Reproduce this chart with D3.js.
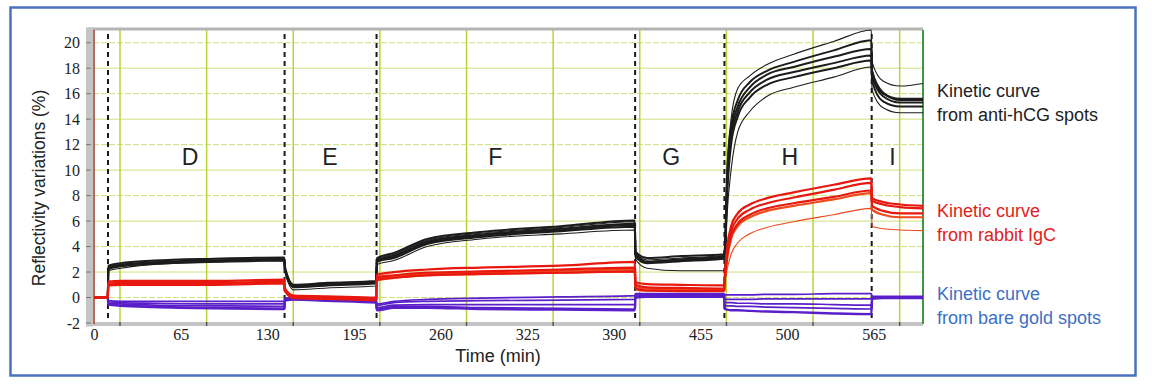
<!doctype html>
<html lang="en">
<head>
<meta charset="utf-8"/>
<title>Kinetic curves</title>
<style>
    body { margin: 0; background: #fff; }
    svg { display: block; }
</style>
</head>
<body>
<svg id="chart"></svg>
<script src="https://d3js.org/d3.v7.min.js"></script>
<script>
    // time knots (min) shared by every trace
    const T = [0, 10.3, 10.8, 20, 45, 90, 142.7, 143.3, 150, 175, 211.7, 212.3, 225, 250, 290, 350, 405.7,
        406.3, 415, 440, 472.7, 473.3, 475, 478, 483, 492, 505, 525, 555, 583.2, 583.8, 592, 605, 622];

    // anti-hCG spots
    const black1 = [0, 0, 2.5, 2.7, 2.9, 3.05, 3.15, 2.4, 1.0, 1.15, 1.3, 3.1, 3.5, 4.6, 5.15, 5.6, 6.05, 3.6, 3.1, 3.25, 3.4, 3.8, 9.0, 13.0, 15.0, 16.5, 17.5, 18.1, 18.9, 19.5, 17.7, 16.0, 15.6, 15.6];
    const black2 = [0, 0, 2.35, 2.55, 2.75, 2.9, 3.0, 2.2, 0.9, 1.05, 1.2, 2.9, 3.3, 4.4, 4.95, 5.4, 5.8, 3.4, 2.8, 3.0, 3.25, 3.6, 8.5, 12.5, 14.6, 16.1, 17.1, 17.7, 18.4, 19.0, 17.4, 15.8, 15.3, 15.3];
    const black3 = [0, 0, 2.25, 2.45, 2.65, 2.8, 2.9, 2.1, 0.8, 0.95, 1.1, 2.8, 3.1, 4.2, 4.75, 5.2, 5.55, 3.2, 2.7, 2.85, 3.05, 3.4, 8.0, 12.0, 14.2, 15.7, 16.7, 17.3, 18.0, 18.6, 17.0, 15.4, 15.0, 15.0];
    const black4 = [0, 0, 2.4, 2.6, 2.8, 2.95, 3.05, 2.3, 0.95, 1.1, 1.25, 3.0, 3.4, 4.5, 5.05, 5.5, 5.95, 3.5, 2.95, 3.1, 3.3, 3.7, 10.0, 14.0, 16.4, 17.4, 18.3, 19.1, 20.1, 21.0, 18.5, 17.0, 16.6, 16.8];
    const black5 = [0, 0, 2.3, 2.5, 2.7, 2.85, 2.95, 2.2, 0.85, 1.0, 1.15, 2.9, 3.2, 4.3, 4.85, 5.3, 5.7, 3.4, 2.8, 2.95, 3.15, 3.5, 9.5, 13.4, 15.5, 16.9, 17.8, 18.5, 19.4, 20.2, 17.8, 16.1, 15.5, 15.5];
    const black6 = [0, 0, 2.1, 2.3, 2.6, 2.8, 2.95, 2.0, 0.6, 0.75, 0.9, 2.6, 2.9, 4.0, 4.6, 5.0, 5.3, 3.0, 2.3, 2.1, 2.1, 2.6, 6.5, 10.0, 13.0, 14.6, 15.8, 16.5, 17.3, 18.1, 16.3, 14.9, 14.5, 14.5];

    // rabbit IgG spots
    const red1 = [0, 0, 1.25, 1.3, 1.3, 1.3, 1.4, 0.7, 0.15, 0.1, 0.0, 1.8, 2.0, 2.2, 2.35, 2.5, 2.8, 1.2, 1.05, 1.0, 0.95, 1.8, 3.9, 5.6, 6.6, 7.3, 7.8, 8.25, 8.85, 9.35, 7.8, 7.5, 7.3, 7.2];
    const red2 = [0, 0, 1.1, 1.15, 1.15, 1.15, 1.25, 0.6, 0.05, 0.0, -0.1, 1.6, 1.75, 1.95, 2.05, 2.2, 2.35, 1.0, 0.8, 0.75, 0.7, 1.5, 3.5, 5.2, 6.2, 6.9, 7.4, 7.85, 8.45, 9.0, 7.6, 7.3, 7.1, 7.0];
    const red3 = [0, 0, 0.95, 1.0, 1.0, 1.0, 1.1, 0.5, -0.05, -0.1, -0.2, 1.4, 1.55, 1.75, 1.85, 1.95, 2.05, 0.7, 0.55, 0.5, 0.5, 1.3, 3.2, 4.8, 5.8, 6.5, 7.0, 7.4, 7.9, 8.4, 7.2, 6.8, 6.6, 6.6];
    const red4 = [0, 0, 1.05, 1.1, 1.1, 1.1, 1.2, 0.55, 0.0, -0.05, -0.15, 1.5, 1.65, 1.85, 1.95, 2.1, 2.2, 0.85, 0.7, 0.65, 0.6, 1.4, 3.0, 4.6, 5.6, 6.3, 6.8, 7.2, 7.7, 8.2, 6.9, 6.5, 6.3, 6.3];
    const red5 = [0, 0, 1.0, 1.05, 1.05, 1.05, 1.15, 0.5, -0.05, -0.1, -0.15, 1.3, 1.5, 1.7, 1.8, 1.9, 2.0, 0.6, 0.5, 0.5, 0.5, 1.2, 2.2, 3.4, 4.3, 5.0, 5.5, 5.95, 6.5, 7.0, 5.6, 5.4, 5.3, 5.25];

    // bare gold spots
    const gold1 = [0, 0, -0.25, -0.3, -0.3, -0.3, -0.3, -0.05, 0.0, -0.05, -0.15, -0.5, -0.3, -0.15, -0.05, 0.05, 0.15, 0.3, 0.3, 0.3, 0.3, 0.2, 0.2, 0.2, 0.2, 0.2, 0.25, 0.25, 0.3, 0.3, 0.1, 0.1, 0.1, 0.1];
    const gold2 = [0, 0, -0.35, -0.4, -0.45, -0.5, -0.5, -0.1, -0.05, -0.1, -0.2, -0.6, -0.4, -0.3, -0.25, -0.2, -0.15, 0.2, 0.2, 0.2, 0.2, -0.1, -0.15, -0.15, -0.15, -0.15, -0.1, -0.1, -0.1, -0.1, 0.05, 0.05, 0.05, 0.05];
    const gold3 = [0, 0, -0.45, -0.5, -0.6, -0.65, -0.7, -0.15, -0.1, -0.15, -0.3, -0.8, -0.6, -0.55, -0.55, -0.55, -0.55, 0.1, 0.15, 0.15, 0.15, -0.35, -0.4, -0.4, -0.45, -0.45, -0.5, -0.5, -0.55, -0.6, 0.0, 0.0, 0.0, 0.0];
    const gold4 = [0, 0, -0.5, -0.6, -0.7, -0.8, -0.85, -0.2, -0.15, -0.2, -0.35, -0.9, -0.7, -0.7, -0.8, -0.85, -0.9, 0.05, 0.1, 0.1, 0.1, -0.6, -0.65, -0.65, -0.7, -0.7, -0.75, -0.8, -0.85, -0.9, -0.05, 0.0, 0.0, 0.0];
    const gold5 = [0, 0, -0.55, -0.65, -0.75, -0.85, -0.9, -0.25, -0.15, -0.25, -0.4, -1.0, -0.8, -0.8, -0.9, -0.95, -1.0, 0.0, 0.05, 0.05, 0.05, -0.9, -0.95, -1.0, -1.0, -1.05, -1.1, -1.15, -1.25, -1.3, -0.1, -0.05, -0.05, -0.05];

    // injection steps (dashed lines) and step labels
    const steps = [10.5, 143, 212, 406, 473, 583.5];
    const stepNames = ["D", "E", "F", "G", "H", "I"];
    const stepLabelT = [72, 177, 301, 433, 522, 599];

    // axes
    const xTickPos = [0, 65, 130, 195, 260, 325, 390, 455, 520, 585];
    const xTickLabels = ["0", "65", "130", "195", "260", "325", "390", "455", "500", "565"];
    const xGrid = [19.5, 84.5, 149.5, 214.5, 279.5, 344.5, 409.5, 474.5, 539.5, 604.5];
    const yTicks = [-2, 0, 2, 4, 6, 8, 10, 12, 14, 16, 18, 20];

    const legendLines = [
        ["Kinetic curve", "from anti-hCG spots"],
        ["Kinetic curve", "from rabbit IgC"],
        ["Kinetic curve", "from bare gold spots"]
    ];

    const W = 1152, H = 384;
    const sans = "'Liberation Sans', Arial, sans-serif";
    const serif = "'Liberation Serif', 'Times New Roman', serif";
    const svg = d3.select("#chart").attr("width", W).attr("height", H);

    // blue frame
    svg.append("rect")
        .attr("x", 10.5).attr("y", 7.5).attr("width", 1125).attr("height", 368)
        .attr("fill", "#fff").attr("stroke", "#4a72c0").attr("stroke-width", 2.5);

    const x = d3.scaleLinear().domain([-4.5, 622]).range([88, 923]);
    const y = d3.scaleLinear().domain([-2, 21]).range([323, 30]);

    // grid
    const grid = svg.append("g");
    grid.selectAll("line.h")
        .data(yTicks.filter(d => d >= 0))
        .enter().append("line")
            .attr("x1", 93).attr("x2", 923)
            .attr("y1", d => y(d)).attr("y2", d => y(d))
            .attr("stroke", "#cfe07a").attr("stroke-width", 1)
            .attr("stroke-dasharray", d => d % 4 === 0 ? "6,2" : null);
    grid.selectAll("line.v")
        .data(xGrid)
        .enter().append("line")
            .attr("x1", d => x(d)).attr("x2", d => x(d))
            .attr("y1", 30).attr("y2", 323)
            .attr("stroke", "#b8d437").attr("stroke-width", 1.5);

    // gray frame bars
    svg.append("rect").attr("x", 88).attr("y", 27.5).attr("width", 835).attr("height", 3).attr("fill", "#b4b4b4");
    svg.append("rect").attr("x", 86).attr("y", 27.5).attr("width", 7).attr("height", 299).attr("fill", "#c4c4c4");
    svg.append("rect").attr("x", 88).attr("y", 322).attr("width", 835).attr("height", 4).attr("fill", "#c4c4c4");
    svg.append("line").attr("x1", 923).attr("x2", 923).attr("y1", 30).attr("y2", 324)
        .attr("stroke", "#3f9a3f").attr("stroke-width", 2);
    svg.append("line").attr("x1", x(0)).attr("x2", x(0)).attr("y1", 30).attr("y2", 324)
        .attr("stroke", "#a8342a").attr("stroke-width", 1.5);

    // small ticks on the bottom and left bars
    svg.append("g").selectAll("line")
        .data(xGrid)
        .enter().append("line")
            .attr("x1", d => x(d)).attr("x2", d => x(d))
            .attr("y1", 322).attr("y2", 326)
            .attr("stroke", "#555").attr("stroke-width", 1.5);
    svg.append("g").selectAll("line")
        .data(yTicks)
        .enter().append("line")
            .attr("x1", 86).attr("x2", 91)
            .attr("y1", d => y(d)).attr("y2", d => y(d))
            .attr("stroke", "#777").attr("stroke-width", 1);

    // dashed step lines
    svg.append("g").selectAll("line")
        .data(steps)
        .enter().append("line")
            .attr("x1", d => x(d)).attr("x2", d => x(d))
            .attr("y1", 34).attr("y2", 322)
            .attr("stroke", "#1a1a1a").attr("stroke-width", 2)
            .attr("stroke-dasharray", "5,4");

    // curves
    const line = d3.line()
        .x((d, i) => x(T[i]))
        .y(d => y(d))
        .curve(d3.curveMonotoneX);

    const curves = svg.append("g").attr("fill", "none").attr("stroke-linejoin", "round");

    const gold = [gold1, gold2, gold3, gold4, gold5];
    const red = [red5, red4, red3, red1, red2];
    const black = [black6, black3, black5, black1, black4, black2];

    curves.selectAll("path.gold")
        .data(gold)
        .enter().append("path")
            .attr("d", line)
            .attr("stroke", "#5a1fc9")
            .attr("stroke-width", (d, i) => i === 4 ? 2.4 : 1.7);

    curves.selectAll("path.black")
        .data(black)
        .enter().append("path")
            .attr("d", line)
            .attr("stroke", "#1c1c1c")
            .attr("stroke-width", (d, i) => (i === 0 || i === 4) ? 1.1 : 2);

    curves.selectAll("path.red")
        .data(red)
        .enter().append("path")
            .attr("d", line)
            .attr("stroke", (d, i) => i === 1 || i === 0 ? "#ee4a1c" : "#e8180f")
            .attr("stroke-width", (d, i) => i === 0 ? 1.1 : 2.2);

    // step letters
    svg.append("g").selectAll("text")
        .data(stepNames)
        .enter().append("text")
            .attr("x", (d, i) => x(stepLabelT[i]))
            .attr("y", y(11))
            .attr("dy", "0.35em")
            .attr("text-anchor", "middle")
            .style("font-family", sans)
            .style("font-size", "23px")
            .attr("fill", "#222")
            .text(d => d);

    // axes
    const yAxis = svg.append("g")
        .attr("transform", "translate(88,0)")
        .call(d3.axisLeft(y).tickValues(yTicks).tickFormat(d => String(d)).tickSize(0).tickPadding(8));
    yAxis.select(".domain").remove();
    yAxis.selectAll("text").style("font-family", serif).style("font-size", "16px").attr("fill", "#222");

    const xAxis = svg.append("g")
        .attr("transform", "translate(0,326)")
        .call(d3.axisBottom(x).tickValues(xTickPos).tickFormat((d, i) => xTickLabels[i]).tickSize(0).tickPadding(3));
    xAxis.select(".domain").remove();
    xAxis.selectAll("text").style("font-family", serif).style("font-size", "16px").attr("fill", "#222");

    svg.append("text")
        .attr("transform", "translate(45,188) rotate(-90)")
        .attr("text-anchor", "middle")
        .style("font-family", sans)
        .style("font-size", "17.5px")
        .attr("fill", "#222")
        .text("Reflectivity variations (%)");

    svg.append("text")
        .attr("x", 498).attr("y", 362)
        .attr("text-anchor", "middle")
        .style("font-family", sans)
        .style("font-size", "18px")
        .attr("fill", "#222")
        .text("Time (min)");

    // legend text
    const legendColors = ["#222", "#e3211b", "#3d6fc6"];
    const legendY = [97, 217, 300];
    legendLines.forEach((lines, k) => {
        const t = svg.append("text")
            .style("font-family", sans)
            .style("font-size", "18px")
            .attr("fill", legendColors[k]);
        lines.forEach((s, j) => {
            t.append("tspan").attr("x", 937).attr("y", legendY[k] + j * 23.5).text(s);
        });
    });
</script>
</body>
</html>
